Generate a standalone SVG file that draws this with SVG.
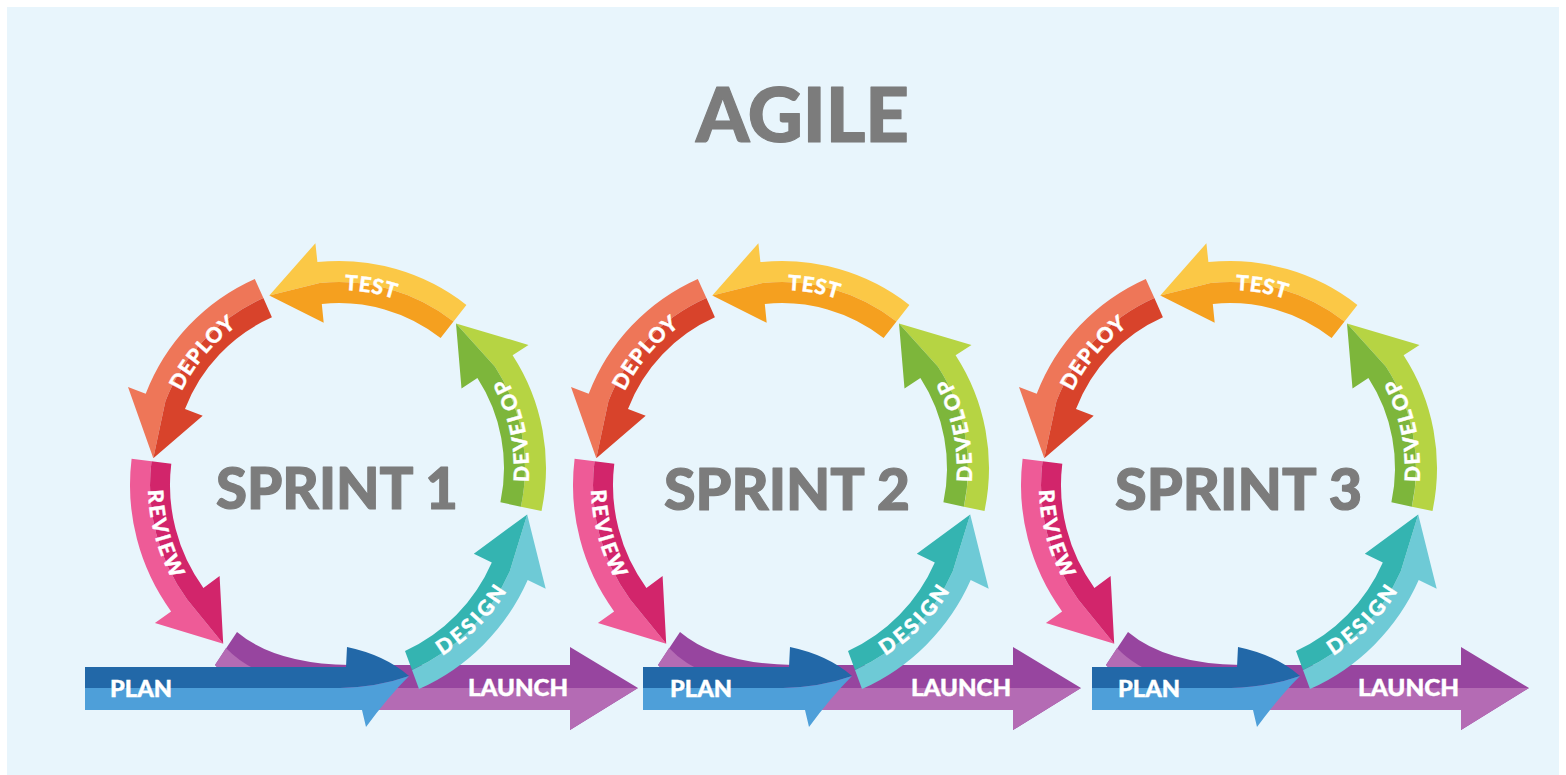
<svg xmlns="http://www.w3.org/2000/svg" width="1566" height="775" viewBox="0 0 1566 775">
<defs>
<style>
.title{font-family:"Lato Black",Lato,"Liberation Sans","DejaVu Sans",sans-serif;font-weight:900;fill:#7c7c7c;stroke:#7c7c7c;stroke-width:1.2;stroke-linejoin:round}
.lbl{font-family:"Lato Black",Lato,"Liberation Sans","DejaVu Sans",sans-serif;font-weight:900;fill:#ffffff;font-size:21px;stroke:#ffffff;stroke-width:0.4}
.bar{font-family:"Lato Black",Lato,"Liberation Sans","DejaVu Sans",sans-serif;font-weight:900;fill:#ffffff;font-size:22px;stroke:#ffffff;stroke-width:0.4}
</style>
<!-- TEST -->
<path id="test-l" fill="#fbc846" d="M466.4,304.9 A207,207 0 0 0 317.4,262.1 L315.4,243.2 L269.3,295.5 L319.6,283.0 A186,186 0 0 1 453.5,321.4 Z"/>
<path id="test-d" fill="#f5a01f" d="M453.5,321.4 A186,186 0 0 0 319.6,283.0 L269.3,295.5 L323.7,322.8 L321.8,303.9 A165,165 0 0 1 440.6,338.0 Z"/>
<!-- DEPLOY -->
<path id="deploy-l" fill="#ee7658" d="M254.8,278.9 A207,207 0 0 0 145.7,393.8 L128.0,387.0 L153.3,458.3 L165.4,401.3 A186,186 0 0 1 263.4,298.1 Z"/>
<path id="deploy-d" fill="#d8432b" d="M263.4,298.1 A186,186 0 0 0 165.4,401.3 L153.3,458.3 L202.7,415.7 L185.0,408.9 A165,165 0 0 1 271.9,317.3 Z"/>
<!-- REVIEW -->
<path id="review-l" fill="#ee5b97" d="M131.6,458.8 A215,215 0 0 0 171.1,611.4 L154.9,623.1 L223.2,643.7 L187.2,599.6 A195,195 0 0 1 151.5,461.2 Z"/>
<path id="review-d" fill="#d2256b" d="M151.5,461.2 A195,195 0 0 0 187.2,599.6 L223.2,643.7 L219.6,576.1 L203.4,587.9 A175,175 0 0 1 171.3,463.7 Z"/>
<!-- DEVELOP -->
<path id="develop-l" fill="#b6d443" d="M541.5,511.0 A207,207 0 0 0 512.6,355.3 L528.5,344.9 L456.0,323.5 L495.0,366.7 A186,186 0 0 1 520.9,506.7 Z"/>
<path id="develop-d" fill="#7db63b" d="M520.9,506.7 A186,186 0 0 0 495.0,366.7 L456.0,323.5 L461.5,388.5 L477.4,378.1 A165,165 0 0 1 500.4,502.3 Z"/>
<!-- DESIGN -->
<path id="design-l" fill="#6ecad6" d="M419,689 A214,214 0 0 0 527.7,580.1 L545.7,588.8 L527.2,514.4 L509.8,571.3 A194,194 0 0 1 412,670 Z"/>
<path id="design-d" fill="#34b4b1" d="M412,670 A194,194 0 0 0 509.8,571.3 L527.2,514.4 L473.8,553.8 L491.8,562.5 A174,174 0 0 1 405,651 Z"/>
<!-- LAUNCH -->
<path id="launch-d" fill="#97459f" d="M237,632 Q275,664 350,665 L570,665 L570,647 L638,688 L570,730 L570,710 L330,710 Q250,705 215,665 Z"/>
<path id="launch-l" fill="#b46bb4" d="M215,665 L226,648 Q262,686 345,688 L638,688 L570,730 L570,710 L330,710 Q250,705 215,665 Z"/>
<!-- text paths -->
<path id="tp-test" d="M263.8,306.7 A178,178 0 0 1 464.9,342.1"/>
<path id="tp-deploy" d="M164.7,452.7 A175,175 0 0 1 293.7,299.0"/>
<path id="tp-review" d="M159.9,417.6 A197,197 0 0 0 218.4,635.9"/>
<path id="tp-develop" d="M513.9,542.2 A190,190 0 0 0 468.6,329.0"/>
<path id="tp-design" d="M373.2,682.0 A197,197 0 0 0 533.0,522.2"/>
</defs>

<rect x="0" y="0" width="1566" height="775" fill="#ffffff"/>
<rect x="7" y="7" width="1552" height="768" fill="#e8f5fc"/>

<g id="title"><text class="title" x="696" y="142" font-size="77" textLength="213" lengthAdjust="spacingAndGlyphs">AGILE</text></g>

<g id="connectors"></g>

<!-- SPRINT 1 -->
<g id="sprint1">
  <g id="s1-launch"><use href="#launch-d"/><use href="#launch-l"/><text class="bar" x="468" y="696" textLength="100" lengthAdjust="spacingAndGlyphs">LAUNCH</text></g>
  <g id="s1-plan">
    <path fill="#2268a8" d="M85,667 L346,667 L347,647 Q385,655 409,676 Q378,687 340,688 L85,688 Z"/>
    <path fill="#4e9fd9" d="M85,688 L340,688 Q378,687 409,676 Q388,697 366,727 L362,710 L85,710 Z"/>
    <text class="bar" x="110" y="697" textLength="62" lengthAdjust="spacingAndGlyphs">PLAN</text>
  </g>
  <g id="s1-design"><use href="#design-l"/><use href="#design-d"/><text class="lbl"><textPath href="#tp-design" startOffset="50%" text-anchor="middle" textLength="92">DESIGN</textPath></text></g>
  <g id="s1-develop"><use href="#develop-l"/><use href="#develop-d"/><text class="lbl"><textPath href="#tp-develop" startOffset="50%" text-anchor="middle" textLength="108">DEVELOP</textPath></text></g>
  <g id="s1-test"><use href="#test-l"/><use href="#test-d"/><text class="lbl"><textPath href="#tp-test" startOffset="50%" text-anchor="middle" textLength="51">TEST</textPath></text></g>
  <g id="s1-deploy"><use href="#deploy-l"/><use href="#deploy-d"/><text class="lbl"><textPath href="#tp-deploy" startOffset="50%" text-anchor="middle" textLength="86">DEPLOY</textPath></text></g>
  <g id="s1-review"><use href="#review-l"/><use href="#review-d"/><text class="lbl"><textPath href="#tp-review" startOffset="50%" text-anchor="middle" textLength="93">REVIEW</textPath></text></g>
  <g id="s1-label"><text class="title" x="216" y="509" font-size="58" textLength="242" lengthAdjust="spacingAndGlyphs">SPRINT 1</text></g>
</g>

<!-- SPRINT 2 -->
<g id="sprint2" transform="translate(443,0)">
  <g id="s2-launch"><use href="#launch-d"/><use href="#launch-l"/><text class="bar" x="468" y="696" textLength="100" lengthAdjust="spacingAndGlyphs">LAUNCH</text></g>
  <g id="s2-plan">
    <path fill="#2268a8" d="M200,667 L346,667 L347,647 Q385,655 409,676 Q378,687 340,688 L200,688 Z"/>
    <path fill="#4e9fd9" d="M200,688 L340,688 Q378,687 409,676 Q388,697 366,727 L362,710 L200,710 Z"/>
    <text class="bar" x="227" y="697" textLength="62" lengthAdjust="spacingAndGlyphs">PLAN</text>
  </g>
  <g id="s2-design"><use href="#design-l"/><use href="#design-d"/><text class="lbl"><textPath href="#tp-design" startOffset="50%" text-anchor="middle" textLength="92">DESIGN</textPath></text></g>
  <g id="s2-develop"><use href="#develop-l"/><use href="#develop-d"/><text class="lbl"><textPath href="#tp-develop" startOffset="50%" text-anchor="middle" textLength="108">DEVELOP</textPath></text></g>
  <g id="s2-test"><use href="#test-l"/><use href="#test-d"/><text class="lbl"><textPath href="#tp-test" startOffset="50%" text-anchor="middle" textLength="51">TEST</textPath></text></g>
  <g id="s2-deploy"><use href="#deploy-l"/><use href="#deploy-d"/><text class="lbl"><textPath href="#tp-deploy" startOffset="50%" text-anchor="middle" textLength="86">DEPLOY</textPath></text></g>
  <g id="s2-review"><use href="#review-l"/><use href="#review-d"/><text class="lbl"><textPath href="#tp-review" startOffset="50%" text-anchor="middle" textLength="93">REVIEW</textPath></text></g>
  <g id="s2-label"><text class="title" x="221" y="510" font-size="58" textLength="246" lengthAdjust="spacingAndGlyphs">SPRINT 2</text></g>
</g>

<!-- SPRINT 3 -->
<g id="sprint3" transform="translate(891,0)">
  <g id="s3-launch"><use href="#launch-d"/><use href="#launch-l"/><text class="bar" x="467" y="696" textLength="101" lengthAdjust="spacingAndGlyphs">LAUNCH</text></g>
  <g id="s3-plan">
    <path fill="#2268a8" d="M201,667 L346,667 L347,647 Q385,655 409,676 Q378,687 340,688 L201,688 Z"/>
    <path fill="#4e9fd9" d="M201,688 L340,688 Q378,687 409,676 Q388,697 366,727 L362,710 L201,710 Z"/>
    <text class="bar" x="227" y="697" textLength="62" lengthAdjust="spacingAndGlyphs">PLAN</text>
  </g>
  <g id="s3-design"><use href="#design-l"/><use href="#design-d"/><text class="lbl"><textPath href="#tp-design" startOffset="50%" text-anchor="middle" textLength="92">DESIGN</textPath></text></g>
  <g id="s3-develop"><use href="#develop-l"/><use href="#develop-d"/><text class="lbl"><textPath href="#tp-develop" startOffset="50%" text-anchor="middle" textLength="108">DEVELOP</textPath></text></g>
  <g id="s3-test"><use href="#test-l"/><use href="#test-d"/><text class="lbl"><textPath href="#tp-test" startOffset="50%" text-anchor="middle" textLength="51">TEST</textPath></text></g>
  <g id="s3-deploy"><use href="#deploy-l"/><use href="#deploy-d"/><text class="lbl"><textPath href="#tp-deploy" startOffset="50%" text-anchor="middle" textLength="86">DEPLOY</textPath></text></g>
  <g id="s3-review"><use href="#review-l"/><use href="#review-d"/><text class="lbl"><textPath href="#tp-review" startOffset="50%" text-anchor="middle" textLength="93">REVIEW</textPath></text></g>
  <g id="s3-label"><text class="title" x="224" y="510" font-size="58" textLength="247" lengthAdjust="spacingAndGlyphs">SPRINT 3</text></g>
</g>
</svg>
